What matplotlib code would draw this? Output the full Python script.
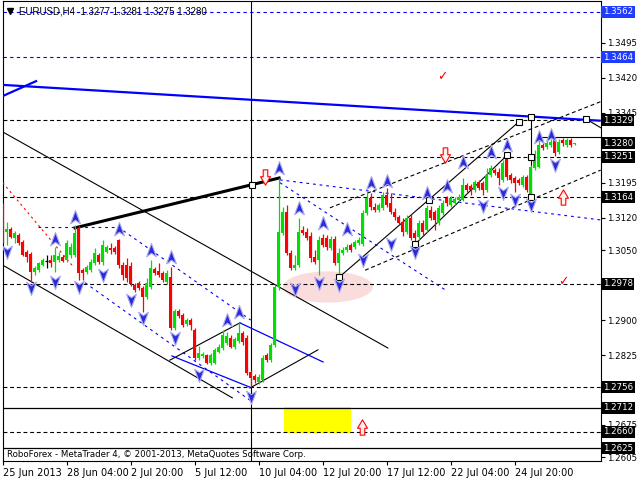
import matplotlib
matplotlib.use("Agg")
import matplotlib.pyplot as plt
from matplotlib.path import Path
from matplotlib.patches import Ellipse, Rectangle
import matplotlib.transforms as mtransforms

# ---------------- data ----------------
title_text = "EURUSD,H4  1.3277 1.3281 1.3275 1.3280"
copyright_text = "RoboForex - MetaTrader 4, \u00a9 2001-2013, MetaQuotes Software Corp."

opens = [1.3141, 1.3089, 1.3096, 1.3076, 1.3082, 1.3068, 1.3046, 1.3041, 1.3003, 1.3007,
         1.3018, 1.3027, 1.3029, 1.3025, 1.3029, 1.3035, 1.3029, 1.3039, 1.3039, 1.3098,
         1.3007, 1.3003, 1.3007, 1.3023, 1.3039, 1.3025, 1.3046, 1.3055, 1.3055, 1.3072,
         1.3018, 1.3018, 1.3016, 1.2975, 1.2980, 1.2969, 1.2950, 1.2971, 1.3010, 1.3005,
         1.3001, 1.2982, 1.2992, 1.2883, 1.2920, 1.2911, 1.2891, 1.2900, 1.2879, 1.2819,
         1.2823, 1.2825, 1.2808, 1.2808, 1.2832, 1.2840, 1.2851, 1.2862, 1.2842, 1.2855,
         1.2873, 1.2862, 1.2789, 1.2780, 1.2767, 1.2771, 1.2825, 1.2814, 1.2846, 1.2971,
         1.3087, 1.3132, 1.3044, 1.3012, 1.3018, 1.3093, 1.3089, 1.3080, 1.3035, 1.3029,
         1.3076, 1.3076, 1.3055, 1.3074, 1.3023, 1.3044, 1.3050, 1.3061, 1.3057, 1.3066,
         1.3063, 1.3130, 1.3162, 1.3143, 1.3136, 1.3141, 1.3168, 1.3152, 1.3132, 1.3121,
         1.3111, 1.3089, 1.3119, 1.3087, 1.3078, 1.3109, 1.3093, 1.3136, 1.3132, 1.3109,
         1.3130, 1.3162, 1.3147, 1.3152, 1.3158, 1.3158, 1.3190, 1.3188, 1.3179, 1.3197,
         1.3195, 1.3179, 1.3211, 1.3222, 1.3218, 1.3201, 1.3254, 1.3211, 1.3205, 1.3201,
         1.3190, 1.3207, 1.3164, 1.3227, 1.3229, 1.3276, 1.3272, 1.3276, 1.3287, 1.3261,
         1.3287, 1.3276, 1.3287, 1.3277]
highs = [1.3152, 1.3111, 1.3100, 1.3091, 1.3087, 1.3072, 1.3050, 1.3046, 1.3016, 1.3025,
         1.3033, 1.3039, 1.3039, 1.3057, 1.3046, 1.3039, 1.3072, 1.3066, 1.3104, 1.3102,
         1.3012, 1.3018, 1.3031, 1.3055, 1.3044, 1.3072, 1.3061, 1.3066, 1.3059, 1.3074,
         1.3025, 1.3033, 1.3025, 1.2980, 1.2984, 1.2973, 1.2990, 1.3029, 1.3014, 1.3023,
         1.3005, 1.3007, 1.3014, 1.2924, 1.2924, 1.2916, 1.2905, 1.2905, 1.2883, 1.2844,
         1.2832, 1.2827, 1.2830, 1.2840, 1.2848, 1.2879, 1.2875, 1.2868, 1.2864, 1.2896,
         1.2877, 1.2868, 1.2793, 1.2784, 1.2784, 1.2825, 1.2830, 1.2851, 1.2975, 1.3205,
         1.3143, 1.3147, 1.3050, 1.3039, 1.3119, 1.3102, 1.3098, 1.3089, 1.3050, 1.3080,
         1.3085, 1.3082, 1.3080, 1.3080, 1.3055, 1.3057, 1.3063, 1.3066, 1.3072, 1.3078,
         1.3136, 1.3175, 1.3173, 1.3152, 1.3152, 1.3175, 1.3184, 1.3173, 1.3141, 1.3125,
         1.3119, 1.3125, 1.3127, 1.3093, 1.3115, 1.3115, 1.3147, 1.3145, 1.3136, 1.3147,
         1.3158, 1.3167, 1.3167, 1.3164, 1.3171, 1.3205, 1.3195, 1.3192, 1.3201, 1.3201,
         1.3199, 1.3227, 1.3233, 1.3227, 1.3227, 1.3244, 1.3259, 1.3216, 1.3209, 1.3205,
         1.3211, 1.3211, 1.3233, 1.3265, 1.3293, 1.3281, 1.3287, 1.3289, 1.3293, 1.3289,
         1.3291, 1.3291, 1.3291, 1.3281]
lows = [1.3066, 1.3061, 1.3076, 1.3066, 1.3061, 1.3037, 1.3025, 1.2982, 1.2996, 1.3003,
        1.3016, 1.3012, 1.3014, 1.3003, 1.3025, 1.3025, 1.3025, 1.3033, 1.3035, 1.2986,
        1.2986, 1.2998, 1.3003, 1.3018, 1.3020, 1.3018, 1.3044, 1.3041, 1.3041, 1.3012,
        1.2986, 1.2982, 1.2973, 1.2961, 1.2965, 1.2918, 1.2946, 1.2967, 1.2996, 1.2992,
        1.2982, 1.2977, 1.2879, 1.2879, 1.2905, 1.2885, 1.2887, 1.2879, 1.2814, 1.2814,
        1.2819, 1.2805, 1.2803, 1.2805, 1.2830, 1.2836, 1.2846, 1.2840, 1.2838, 1.2851,
        1.2846, 1.2782, 1.2756, 1.2765, 1.2762, 1.2767, 1.2810, 1.2810, 1.2842, 1.2965,
        1.3082, 1.3039, 1.3007, 1.3007, 1.3014, 1.3082, 1.3072, 1.3025, 1.3020, 1.2996,
        1.3057, 1.3050, 1.3050, 1.3018, 1.2990, 1.3039, 1.3046, 1.3046, 1.3053, 1.3061,
        1.3059, 1.3125, 1.3136, 1.3132, 1.3132, 1.3136, 1.3143, 1.3127, 1.3115, 1.3104,
        1.3080, 1.3084, 1.3072, 1.3055, 1.3072, 1.3082, 1.3089, 1.3115, 1.3093, 1.3104,
        1.3125, 1.3145, 1.3143, 1.3147, 1.3154, 1.3156, 1.3175, 1.3168, 1.3175, 1.3179,
        1.3168, 1.3175, 1.3207, 1.3211, 1.3190, 1.3197, 1.3201, 1.3195, 1.3175, 1.3190,
        1.3186, 1.3175, 1.3158, 1.3222, 1.3227, 1.3265, 1.3268, 1.3272, 1.3252, 1.3257,
        1.3274, 1.3272, 1.3272, 1.3275]
closes = [1.3089, 1.3096, 1.3078, 1.3087, 1.3066, 1.3039, 1.3035, 1.3003, 1.3012, 1.3023,
          1.3029, 1.3027, 1.3023, 1.3039, 1.3037, 1.3027, 1.3066, 1.3057, 1.3087, 1.3001,
          1.3001, 1.3014, 1.3025, 1.3044, 1.3025, 1.3061, 1.3057, 1.3050, 1.3046, 1.3018,
          1.2996, 1.2990, 1.2977, 1.2965, 1.2969, 1.2950, 1.2980, 1.3012, 1.3001, 1.2996,
          1.2986, 1.3001, 1.2883, 1.2920, 1.2909, 1.2889, 1.2900, 1.2889, 1.2819, 1.2830,
          1.2827, 1.2808, 1.2825, 1.2836, 1.2842, 1.2868, 1.2866, 1.2842, 1.2860, 1.2873,
          1.2853, 1.2787, 1.2776, 1.2771, 1.2778, 1.2819, 1.2814, 1.2846, 1.2971, 1.3089,
          1.3132, 1.3044, 1.3012, 1.3018, 1.3089, 1.3087, 1.3076, 1.3033, 1.3025, 1.3072,
          1.3061, 1.3057, 1.3074, 1.3023, 1.3044, 1.3050, 1.3057, 1.3050, 1.3068, 1.3072,
          1.3130, 1.3162, 1.3143, 1.3136, 1.3147, 1.3168, 1.3147, 1.3132, 1.3121, 1.3109,
          1.3089, 1.3119, 1.3076, 1.3076, 1.3109, 1.3089, 1.3141, 1.3119, 1.3115, 1.3141,
          1.3152, 1.3152, 1.3162, 1.3160, 1.3164, 1.3190, 1.3179, 1.3179, 1.3197, 1.3184,
          1.3179, 1.3211, 1.3227, 1.3216, 1.3205, 1.3238, 1.3207, 1.3201, 1.3195, 1.3195,
          1.3207, 1.3179, 1.3229, 1.3254, 1.3276, 1.3270, 1.3281, 1.3283, 1.3259, 1.3283,
          1.3281, 1.3287, 1.3276, 1.3280]

date_tick_bars = [0, 16, 32, 48, 64, 80, 96, 112, 128]
date_labels = ["25 Jun 2013", "28 Jun 04:00", "2 Jul 20:00", "5 Jul 12:00", "10 Jul 04:00",
               "12 Jul 20:00", "17 Jul 12:00", "22 Jul 04:00", "24 Jul 20:00"]
price_ticks = [1.3495, 1.3420, 1.3345, 1.3195, 1.3120, 1.3050,
               1.2900, 1.2825, 1.2675, 1.2605]

blue_levels = [1.3562, 1.3464]
dashed_levels = [1.3329, 1.3251, 1.3164, 1.2978, 1.2756, 1.2660]
solid_levels = [1.2712, 1.2625]
black_box_labels = [1.3329, 1.3280, 1.3251, 1.3164, 1.2978, 1.2756, 1.2712, 1.2660, 1.2625]

# trend lines: (bar0, price0, bar1, price1)
blue_thick_lines = [(0.0, 1.3405, 149.5, 1.3328), (0.0, 1.3381, 8.6, 1.3414)]
black_thin_lines = [(0.0, 1.3304, 96.3, 1.2840), (0.0, 1.3018, 57.4, 1.2733),
                    (41.8, 1.2814, 59.3, 1.2894), (61.8, 1.2754, 78.8, 1.2836),
                    (84.1, 1.2992, 129.1, 1.3326), (103.1, 1.3063, 126.1, 1.3254),
                    (132.1, 1.3336, 132.1, 1.3164), (133.8, 1.3293, 149.5, 1.3293),
                    (145.8, 1.3332, 149.5, 1.3313)]
black_thick_lines = [(18.1, 1.3098, 69.1, 1.3205)]
blue_solid_lines = [(59.3, 1.2894, 80.1, 1.2810), (42.3, 1.2823, 61.8, 1.2756)]
blue_dashed_lines = [(8.8, 1.3100, 28.8, 1.3100), (28.8, 1.3100, 62.0, 1.2900),
                     (20.6, 1.2980, 61.8, 1.2728), (69.3, 1.3201, 149.5, 1.3115),
                     (69.3, 1.3195, 110.6, 1.2965)]
black_dashed_lines = [(81.8, 1.3141, 149.5, 1.3369), (90.6, 1.3007, 149.5, 1.3222)]
red_dashed_lines = [(0.0, 1.3195, 17.3, 1.3018)]
vline_bar = 62.1

square_bars = [84.1, 106.6, 129.1, 103.1, 126.1, 132.1, 132.1, 132.1, 145.8, 62.3]
square_prices = [1.2992, 1.3158, 1.3326, 1.3063, 1.3254, 1.3336, 1.3250, 1.3164, 1.3332, 1.3190]

up_frac_bars = [13, 18, 29, 37, 42, 56, 59, 69, 74, 80, 86, 92, 96, 106, 111, 115, 122, 126, 134, 137]
up_frac_prices = [1.3074, 1.3121, 1.3096, 1.3050, 1.3035, 1.2900, 1.2918, 1.3227, 1.3141, 1.3109,
                  1.3096, 1.3195, 1.3199, 1.3173, 1.3188, 1.3240, 1.3261, 1.3276, 1.3293, 1.3297]
dn_frac_bars = [1, 7, 13, 19, 25, 32, 35, 43, 49, 62, 73, 79, 84, 90, 97, 103, 120, 125, 128, 132, 138]
dn_frac_prices = [1.3046, 1.2969, 1.2982, 1.2971, 1.2996, 1.2943, 1.2905, 1.2862, 1.2782, 1.2735,
                  1.2967, 1.2980, 1.2975, 1.3029, 1.3063, 1.3046, 1.3145, 1.3173, 1.3158, 1.3147,
                  1.3233]

red_down_arrow_bars = [65.6, 110.6]
red_down_arrow_prices = [1.3207, 1.3254]
red_up_arrow_bars = [140.1, 89.8]
red_up_arrow_prices = [1.3164, 1.2670]
check_bars = [109.8, 140.1]
check_prices = [1.3422, 1.2982]

ellipse_center = (81.3, 1.2971)
ellipse_size = (22.5, 0.0067)
yellow_box = (70.3, 1.2658, 87.1, 1.2713)

# ---------------- figure ----------------
fig = plt.figure(figsize=(6.4, 4.8), dpi=100)
ax = fig.add_axes([2.5 / 640, 19 / 480, 598 / 640, 460 / 480])
ax.set_xlim(-0.05, 149.45)
ax.set_ylim(1.25974, 1.35851)
ax.set_facecolor("white")

GREEN = "#00e000"
RED = "#ff0000"
BLUE = "#0000ff"

# background objects
ax.add_patch(Ellipse(ellipse_center, ellipse_size[0], ellipse_size[1], facecolor="#fbdcdc",
                     edgecolor="none", zorder=1))
x0, p0, x1, p1 = yellow_box
ax.add_patch(Rectangle((x0, p0), x1 - x0, p1 - p0, facecolor="#ffff00", edgecolor="none", zorder=1))

for lv in blue_levels:
    ax.axhline(lv, color=BLUE, lw=0.8, ls=(0, (3, 3)), zorder=2)
for lv in dashed_levels:
    ax.axhline(lv, color="black", lw=0.8, ls=(0, (3.5, 2.5)), zorder=2)
for lv in solid_levels:
    ax.axhline(lv, color="black", lw=0.9, zorder=2)
ax.axvline(vline_bar, color="black", lw=0.8, zorder=2)

for (a, b, c, d) in blue_thick_lines:
    ax.plot([a, c], [b, d], color=BLUE, lw=1.6, zorder=3, solid_capstyle="butt")
for (a, b, c, d) in black_thin_lines:
    ax.plot([a, c], [b, d], color="black", lw=0.8, zorder=3)
for (a, b, c, d) in black_thick_lines:
    ax.plot([a, c], [b, d], color="black", lw=2.2, zorder=3)
for (a, b, c, d) in blue_solid_lines:
    ax.plot([a, c], [b, d], color=BLUE, lw=0.9, zorder=3)
for (a, b, c, d) in blue_dashed_lines:
    ax.plot([a, c], [b, d], color=BLUE, lw=0.8, ls=(0, (2.5, 3.5)), zorder=3)
for (a, b, c, d) in black_dashed_lines:
    ax.plot([a, c], [b, d], color="black", lw=0.8, ls=(0, (3.5, 2.5)), zorder=3)
for (a, b, c, d) in red_dashed_lines:
    ax.plot([a, c], [b, d], color=RED, lw=0.8, ls=(0, (2, 3)), zorder=3)

# candles
for i in range(len(opens)):
    o, h, l, c = opens[i], highs[i], lows[i], closes[i]
    if c > o:
        col = GREEN
    elif c < o:
        col = RED
    else:
        col = "black"
    ax.vlines(i, l, h, color=col, lw=0.9, zorder=5)
    if c != o:
        ax.bar(i, abs(c - o), bottom=min(o, c), width=0.8, color=col, linewidth=0, zorder=5)
    else:
        ax.hlines(o, i - 0.4, i + 0.4, color=col, lw=0.9, zorder=5)

# squares
ax.plot(square_bars, square_prices, ls="none", marker="s", ms=4, mfc="white", mec="black",
        mew=0.8, zorder=6)

# fractal arrows
up_path = Path([(0, 1), (0.7, -0.9), (0, -0.4), (-0.7, -0.9), (0, 1)],
               [Path.MOVETO, Path.LINETO, Path.LINETO, Path.LINETO, Path.CLOSEPOLY])
dn_path = Path([(0, -1), (0.7, 0.9), (0, 0.4), (-0.7, 0.9), (0, -1)],
               [Path.MOVETO, Path.LINETO, Path.LINETO, Path.LINETO, Path.CLOSEPOLY])
ax.plot(up_frac_bars, up_frac_prices, ls="none", marker=up_path, ms=10, mfc="#2a2ad8",
        mec="#a8a8f0", mew=0.8, zorder=7)
ax.plot(dn_frac_bars, dn_frac_prices, ls="none", marker=dn_path, ms=10, mfc="#2a2ad8",
        mec="#a8a8f0", mew=0.8, zorder=7)

# red hollow block arrows
dn_block = Path([(-0.3, 1), (0.3, 1), (0.3, 0.1), (0.65, 0.1), (0, -1), (-0.65, 0.1), (-0.3, 0.1), (-0.3, 1)],
                [Path.MOVETO] + [Path.LINETO] * 6 + [Path.CLOSEPOLY])
up_block = Path([(-0.3, -1), (0.3, -1), (0.3, -0.1), (0.65, -0.1), (0, 1), (-0.65, -0.1), (-0.3, -0.1), (-0.3, -1)],
                [Path.MOVETO] + [Path.LINETO] * 6 + [Path.CLOSEPOLY])
ax.plot(red_down_arrow_bars, red_down_arrow_prices, ls="none", marker=dn_block, ms=11,
        mfc="#fff0f0", mec=RED, mew=0.8, zorder=7)
ax.plot(red_up_arrow_bars, red_up_arrow_prices, ls="none", marker=up_block, ms=11,
        mfc="#fff0f0", mec=RED, mew=0.8, zorder=7)
for b, p in zip(check_bars, check_prices):
    ax.text(b, p, "\u2713", color=RED, fontsize=9, ha="center", va="center", zorder=7)

# texts
ax.text(0.027, 0.978, title_text, transform=ax.transAxes, fontsize=7, ha="left", va="center",
        family="Liberation Sans")
ax.plot([0.012], [0.978], transform=ax.transAxes, marker="v", ms=4, color="black", clip_on=False)
ax.text(0.008, 0.014, copyright_text, transform=ax.transAxes, fontsize=6.2, ha="left",
        va="center", family="DejaVu Sans", zorder=8)

# axes / ticks
for s in ax.spines.values():
    s.set_color("black")
    s.set_linewidth(0.8)
ax.yaxis.tick_right()
ax.set_yticks(price_ticks)
ax.set_yticklabels(["%.4f" % v for v in price_ticks])
ax.set_xticks(date_tick_bars)
ax.set_xticklabels(date_labels)
ax.tick_params(axis="y", direction="out", length=3, width=0.8, pad=2, labelsize=6.2)
ax.tick_params(axis="x", direction="out", length=3, width=0.8, pad=2, labelsize=7)
for lbl in ax.get_xticklabels():
    lbl.set_ha("left")

ytrans = mtransforms.blended_transform_factory(ax.transAxes, ax.transData)
for lv in black_box_labels:
    ax.text(1.004, lv, "%.4f" % lv, transform=ytrans, fontsize=6.2, color="white", ha="left",
            va="center", clip_on=False, zorder=10,
            bbox=dict(boxstyle="square,pad=0.18", fc="black", ec="none"))
for lv in blue_levels:
    ax.text(1.004, lv, "%.4f" % lv, transform=ytrans, fontsize=6.2, color="white", ha="left",
            va="center", clip_on=False, zorder=10,
            bbox=dict(boxstyle="square,pad=0.18", fc="#1f3cff", ec="none"))

fig.savefig("out.png", dpi=100)
